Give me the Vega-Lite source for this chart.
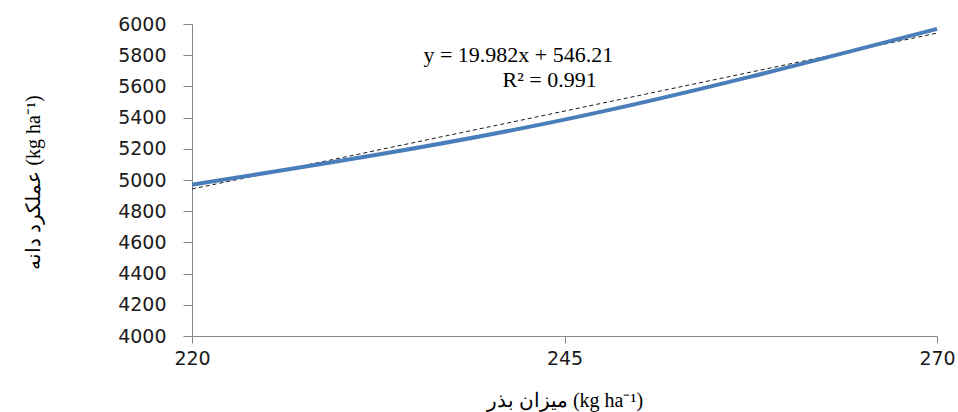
{
  "$schema": "https://vega.github.io/schema/vega-lite/v6.json",
  "width": 745,
  "height": 312,
  "autosize": {"type": "none"},
  "padding": {"left": 192, "top": 24, "right": 21, "bottom": 76},
  "background": "white",
  "config": {
    "view": {"stroke": null},
    "axis": {
      "grid": false,
      "domainColor": "#868686",
      "tickColor": "#868686",
      "labelFont": "DejaVu Sans",
      "labelFontSize": 19,
      "labelColor": "#1a1a1a",
      "labelOverlap": false,
      "labelFlush": false,
      "titleFont": "Liberation Serif",
      "titleFontSize": 20,
      "titleFontWeight": "normal",
      "titleColor": "#000000"
    },
    "axisY": {
      "format": "d",
      "tickSize": 9,
      "labelPadding": 17,
      "titleAngle": 270,
      "titleAlign": "center",
      "titleBaseline": "middle",
      "titleX": -159,
      "titleY": 158
    },
    "axisX": {
      "format": "d",
      "tickSize": 7,
      "labelPadding": 6,
      "titleBaseline": "middle",
      "titleY": 64
    }
  },
  "datasets": {
    "yield": [
      {"seed": 220, "yield": 4970},
      {"seed": 245, "yield": 5387},
      {"seed": 270, "yield": 5969}
    ],
    "trend": [
      {"seed": 220, "yield": 4942.25},
      {"seed": 270, "yield": 5941.35}
    ],
    "eq": [
      {"seed": 241.9, "yield": 5800, "label": "y = 19.982x + 546.21"},
      {"seed": 244.0, "yield": 5640, "label": "R² = 0.991"}
    ]
  },
  "encoding": {
    "x": {
      "field": "seed",
      "type": "quantitative",
      "scale": {"domain": [220, 270], "nice": false, "zero": false},
      "axis": {"title": "میزان بذر (kg ha⁻¹)", "values": [220, 245, 270], "tickCount": 5}
    },
    "y": {
      "field": "yield",
      "type": "quantitative",
      "scale": {"domain": [4000, 6000], "nice": false, "zero": false},
      "axis": {
        "title": "عملکرد دانه (kg ha⁻¹)",
        "values": [4000, 4200, 4400, 4600, 4800, 5000, 5200, 5400, 5600, 5800, 6000],
        "tickCount": 20
      }
    }
  },
  "layer": [
    {
      "data": {"name": "trend"},
      "mark": {"type": "line", "color": "#1a1a1a", "strokeWidth": 1, "strokeDash": [4, 3]}
    },
    {
      "data": {"name": "yield"},
      "mark": {"type": "line", "color": "#4a7ebb", "strokeWidth": 4, "interpolate": "monotone"}
    },
    {
      "data": {"name": "eq"},
      "mark": {"type": "text", "font": "Liberation Serif", "fontSize": 22, "color": "#000000", "align": "center", "baseline": "middle"},
      "encoding": {
        "text": {"field": "label"}
      }
    }
  ]
}
